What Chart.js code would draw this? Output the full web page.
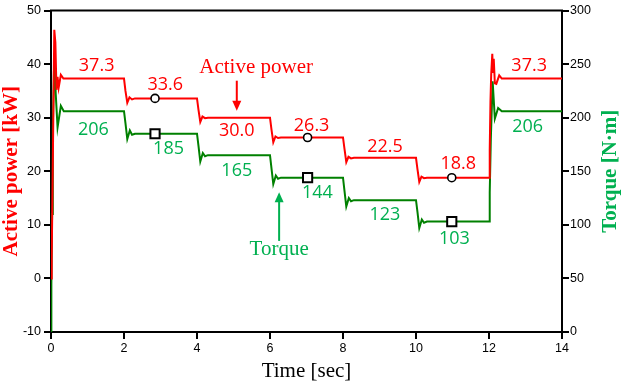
<!DOCTYPE html>
<html>
<head>
<meta charset="utf-8">
<title>Active power / torque</title>
<script src="https://cdn.jsdelivr.net/npm/chart.js@4/dist/chart.umd.min.js"></script>
<style>
    html, body { margin: 0; padding: 0; background: #fff; }
</style>
</head>
<body>
<canvas id="pwrChart" width="630" height="388"></canvas>
<script>
// x axis ticks [sec]
const timeTicks = [0, 2, 4, 6, 8, 10, 12, 14];

// step levels written next to each segment
const powerLevels = [37.3, 33.6, 30.0, 26.3, 22.5, 18.8, 37.3];
const torqueLevels = [206, 185, 165, 144, 123, 103, 206];

// active power trace [kW]
const powerTime = [0, 0.02, 0.04, 0.06, 0.09, 0.12, 0.15, 0.18, 0.21, 0.27, 0.34,
    2.0, 2.04, 2.09, 2.15, 2.22, 2.3,
    4.0, 4.04, 4.09, 4.15, 4.22, 4.3,
    6.0, 6.04, 6.09, 6.15, 6.22, 6.3,
    8.0, 8.04, 8.09, 8.15, 8.22, 8.3,
    10.0, 10.04, 10.09, 10.15, 10.22, 10.3,
    12.0, 12.02, 12.04, 12.06, 12.09, 12.11, 12.13, 12.16, 12.2, 12.28, 12.35, 14];
const powerKW = [0, 4, 16, 28, 46.4, 44, 35.2, 37.6, 35.6, 38.0, 37.3,
    37.3, 35.0, 32.8, 33.8, 33.4, 33.6,
    33.6, 31.5, 29.2, 30.2, 29.9, 30.0,
    30.0, 27.8, 25.4, 26.5, 26.2, 26.3,
    26.3, 24.2, 21.7, 22.7, 22.4, 22.5,
    22.5, 20.4, 18.0, 19.0, 18.7, 18.8,
    18.8, 24, 33, 38, 41.9, 38.5, 41.0, 36.4, 36.3, 37.9, 37.3, 37.3];

// torque trace [N·m]
const torqueTime = [0, 0.01, 0.03, 0.05, 0.09, 0.13, 0.18, 0.27, 0.35,
    2.0, 2.04, 2.09, 2.16, 2.22, 2.3,
    4.0, 4.04, 4.09, 4.16, 4.22, 4.3,
    6.0, 6.04, 6.09, 6.16, 6.22, 6.3,
    8.0, 8.04, 8.09, 8.16, 8.22, 8.3,
    10.0, 10.04, 10.09, 10.16, 10.22, 10.3,
    12.0, 12.02, 12.05, 12.1, 12.16, 12.25, 12.35, 14];
const torqueNm = [0, 44, 110, 190, 259, 222, 191, 211, 206,
    206, 195, 180, 188, 184, 185,
    185, 174, 159, 167, 164, 165,
    165, 153, 138, 146, 143, 144,
    144, 132, 117, 125, 122, 123,
    123, 112, 97, 105, 102, 103,
    103, 130, 180, 234, 199, 209, 206, 206];

// marked points
const markTime = [2.85, 7.03, 10.98];
const powerMarks = [33.6, 26.3, 18.8];
const torqueMarks = [185, 144, 103];

// where the level numbers sit: time + pixel offset from the level
const powerLabelPos = [[1.25, -13], [3.13, -14], [5.09, 13], [7.14, -12], [9.15, -11], [11.16, -14], [13.1, -13]];
const torqueLabelPos = [[1.16, 19], [3.22, 15], [5.09, 16], [7.30, 15], [9.15, 15], [11.05, 17], [13.06, 16]];

const RED = '#ff0000';
const GREEN_LINE = '#008000';
const GREEN_TXT = '#00b050';
const tickFont = { family: '"Liberation Sans", Arial, sans-serif', size: 12.5 };

function toXY(xs, ys) {
    return xs.map((t, i) => ({ x: t, y: ys[i] }));
}

function arrow(ctx, px, y0, y1, color) {
    const dir = y1 > y0 ? 1 : -1;
    ctx.strokeStyle = color;
    ctx.fillStyle = color;
    ctx.lineWidth = 2;
    ctx.beginPath();
    ctx.moveTo(px, y0);
    ctx.lineTo(px, y1 - dir * 7);
    ctx.stroke();
    ctx.beginPath();
    ctx.moveTo(px, y1);
    ctx.lineTo(px - 4.5, y1 - dir * 10);
    ctx.lineTo(px + 4.5, y1 - dir * 10);
    ctx.closePath();
    ctx.fill();
}

const overlay = {
    id: 'overlay',
    afterDraw(chart) {
        const { ctx, chartArea: a } = chart;
        const { x, y, y2 } = chart.scales;
        ctx.save();

        // top edge of the frame
        ctx.strokeStyle = '#000';
        ctx.lineWidth = 2;
        ctx.beginPath();
        ctx.moveTo(a.left - 1, a.top);
        ctx.lineTo(a.right + 1, a.top);
        ctx.stroke();

        // level numbers
        ctx.font = '18px "Open Sans", sans-serif';
        ctx.textAlign = 'center';
        ctx.textBaseline = 'middle';
        ctx.fillStyle = RED;
        powerLevels.forEach((v, i) => {
            const [t, dy] = powerLabelPos[i];
            ctx.fillText(v.toFixed(1), x.getPixelForValue(t), y.getPixelForValue(v) + dy);
        });
        ctx.fillStyle = GREEN_TXT;
        torqueLevels.forEach((v, i) => {
            const [t, dy] = torqueLabelPos[i];
            ctx.fillText(String(v), x.getPixelForValue(t), y2.getPixelForValue(v) + dy);
        });

        // callouts
        ctx.font = '21px "Liberation Serif", "Times New Roman", serif';
        ctx.textBaseline = 'alphabetic';
        ctx.fillStyle = RED;
        ctx.fillText('Active power', x.getPixelForValue(5.62), y.getPixelForValue(38.25));
        arrow(ctx, x.getPixelForValue(5.09), y.getPixelForValue(36.9), y.getPixelForValue(31.3), RED);

        ctx.fillStyle = GREEN_TXT;
        ctx.fillText('Torque', x.getPixelForValue(6.25), y2.getPixelForValue(72));
        arrow(ctx, x.getPixelForValue(6.25), y2.getPixelForValue(85), y2.getPixelForValue(130.5), GREEN_TXT);

        // axis titles
        const midY = (a.top + a.bottom) / 2;
        ctx.textBaseline = 'middle';
        ctx.font = 'bold 21px "Liberation Serif", "Times New Roman", serif';
        ctx.fillStyle = RED;
        ctx.save();
        ctx.translate(12, midY);
        ctx.rotate(-Math.PI / 2);
        ctx.fillText('Active power [kW]', 0, 0);
        ctx.restore();

        ctx.fillStyle = GREEN_TXT;
        ctx.save();
        ctx.translate(611, midY);
        ctx.rotate(-Math.PI / 2);
        ctx.fillText('Torque [N·m]', 0, 0);
        ctx.restore();

        ctx.font = '21px "Liberation Serif", "Times New Roman", serif';
        ctx.fillStyle = '#000';
        ctx.textBaseline = 'alphabetic';
        ctx.fillText('Time [sec]', (a.left + a.right) / 2, 377);

        ctx.restore();
    }
};

const axisGrid = { drawOnChartArea: false, drawTicks: true, tickLength: 7, color: '#000', lineWidth: 2 };
const axisBorder = { display: true, color: '#000', width: 2 };

new Chart(document.getElementById('pwrChart'), {
    type: 'line',
    data: {
        datasets: [{
            label: 'power marks',
            data: toXY(markTime, powerMarks),
            yAxisID: 'y',
            showLine: false,
            pointStyle: 'circle',
            pointRadius: 4,
            pointBackgroundColor: '#fff',
            pointBorderColor: '#000',
            pointBorderWidth: 1.6,
            order: 0
        }, {
            label: 'torque marks',
            data: toXY(markTime, torqueMarks),
            yAxisID: 'y2',
            showLine: false,
            pointStyle: 'rect',
            pointRadius: 6.5,
            pointBackgroundColor: '#fff',
            pointBorderColor: '#000',
            pointBorderWidth: 2,
            order: 0
        }, {
            label: 'Active power',
            data: toXY(powerTime, powerKW),
            yAxisID: 'y',
            borderColor: RED,
            borderWidth: 2,
            pointRadius: 0,
            tension: 0,
            order: 1
        }, {
            label: 'Torque',
            data: toXY(torqueTime, torqueNm),
            yAxisID: 'y2',
            borderColor: GREEN_LINE,
            borderWidth: 2,
            pointRadius: 0,
            tension: 0,
            order: 2
        }]
    },
    options: {
        responsive: false,
        animation: false,
        events: [],
        layout: { padding: { top: 10, left: 0, right: 0, bottom: 0 } },
        plugins: {
            legend: { display: false },
            tooltip: { enabled: false }
        },
        scales: {
            x: {
                type: 'linear',
                position: 'bottom',
                min: 0,
                max: 14,
                afterBuildTicks: s => { s.ticks = timeTicks.map(v => ({ value: v })); },
                ticks: { color: '#000', font: tickFont, padding: 2, maxRotation: 0 },
                grid: axisGrid,
                border: axisBorder,
                afterFit: s => { s.height = 56; }
            },
            y: {
                position: 'left',
                min: -10,
                max: 50,
                ticks: { stepSize: 10, color: '#000', font: tickFont, padding: 3 },
                grid: axisGrid,
                border: axisBorder,
                afterFit: s => { s.width = 51; }
            },
            y2: {
                position: 'right',
                min: 0,
                max: 300,
                ticks: { stepSize: 50, color: '#000', font: tickFont, padding: 1 },
                grid: axisGrid,
                border: axisBorder,
                afterFit: s => { s.width = 68; }
            }
        }
    },
    plugins: [overlay]
});
</script>
</body>
</html>
